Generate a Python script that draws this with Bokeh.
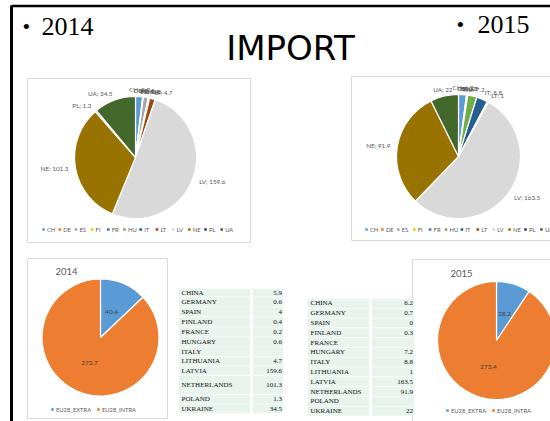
import math
from bokeh.plotting import figure
from bokeh.models import ColumnDataSource, Range1d
from bokeh.core.properties import value
from bokeh.embed import file_html
from bokeh.resources import INLINE

# ---------------- data ----------------
codes = ["CH", "DE", "ES", "FI", "FR", "HU", "IT", "LT", "LV", "NE", "PL", "UA"]
countries = ["CHINA", "GERMANY", "SPAIN", "FINLAND", "FRANCE", "HUNGARY", "ITALY",
             "LITHUANIA", "LATVIA", "NETHERLANDS", "POLAND", "UKRAINE"]
values_2014 = [5.9, 0.6, 4, 0.4, 0.2, 0.6, None, 4.7, 159.6, 101.3, 1.3, 34.5]
values_2015 = [6.2, 0.7, 0, 0.3, None, 7.2, 8.8, 1, 163.5, 91.9, None, 22]
eu_labels = ["EU28_EXTRA", "EU28_INTRA"]
eu_2014 = [40.4, 272.7]
eu_2015 = [28.2, 273.4]
years = ["2014", "2015"]
title = "IMPORT"

country_colors = ["#5B9BD5", "#ED7D31", "#A5A5A5", "#FFC000", "#4472C4", "#70AD47",
                  "#255E91", "#9E480E", "#D9D9D9", "#997300", "#264478", "#43682B"]
eu_colors = ["#5B9BD5", "#ED7D31"]

LABEL_GRAY = "#595959"
FONT = "Lato"

# ---------------- figure (coordinates = reference pixels) ----------------
W, H = 550, 421
p = figure(width=W, height=H, x_range=Range1d(0, W), y_range=Range1d(-H, 0),
           x_axis_type=None, y_axis_type=None, toolbar_location=None,
           output_backend="svg", min_border=0)
p.outline_line_color = None
p.grid.visible = False
p.background_fill_color = "white"


def Y(y):
    return -y


def fmt(v):
    return f"{v:g}"


def box(left, top, right, bottom, color="#D9D9D9"):
    p.quad(left=[left], right=[right], top=[Y(top)], bottom=[Y(bottom)],
           fill_color=None, line_color=color, line_width=1)


def text(xs, ys, texts, size, font=FONT, color=LABEL_GRAY, align="left",
         baseline="middle", style="normal"):
    src = ColumnDataSource(dict(x=xs, y=[Y(v) for v in ys], t=texts,
                                a=align if isinstance(align, list) else [align] * len(xs)))
    p.text(x="x", y="y", text="t", source=src, text_align="a",
           text_baseline=baseline, text_font=value(font),
           text_font_size=value(size), text_color=color, text_font_style=style)


def pie(cx, cy, r, vals, cols, names=None, label_r=None, inside=False):
    total = sum(v for v in vals if v)
    cum = 0.0
    xs, ys, rs, ss, es, cs = [], [], [], [], [], []
    lx, ly, lt, la = [], [], [], []
    for i, v in enumerate(vals):
        vv = v or 0
        t0 = cum / total * 2 * math.pi
        t1 = (cum + vv) / total * 2 * math.pi
        cum += vv
        if vv > 0:
            xs.append(cx); ys.append(Y(cy)); rs.append(r)
            ss.append(math.pi / 2 - t1); es.append(math.pi / 2 - t0); cs.append(cols[i])
        if v is None:
            continue
        mid = (t0 + t1) / 2
        R = label_r
        lx.append(cx + R * math.sin(mid))
        ly.append(cy - R * math.cos(mid))
        if inside:
            lt.append(fmt(v)); la.append("center")
        else:
            lt.append(f"{names[i]}; {fmt(v)}")
            s = math.sin(mid)
            la.append("left" if s > 0.25 else ("right" if s < -0.25 else "center"))
    src = ColumnDataSource(dict(x=xs, y=ys, r=rs, s=ss, e=es, c=cs))
    p.wedge(x="x", y="y", radius="r", start_angle="s", end_angle="e",
            fill_color="c", line_color="white", line_width=1.2, source=src)
    if inside:
        text(lx, ly, lt, "6.5px", color="#404040", align=la)
    else:
        text(lx, ly, lt, "6.3px", color=LABEL_GRAY, align=la)


def legend(x0, y, step, names, cols, size="5.8px"):
    mx = [x0 + i * step for i in range(len(names))]
    p.rect(x=mx, y=[Y(y)] * len(names), width=2.6, height=2.6,
           fill_color=cols, line_color=None)
    text([m + 3.5 for m in mx], [y] * len(names), names, size, color=LABEL_GRAY)


def table(left, top, name_w, val_w, heights, names, vals, size="7px"):
    gap = 2
    tops, bots = [], []
    y = top
    for h in heights:
        tops.append(y); bots.append(y + h); y += h
    n = len(names)
    p.quad(left=[left] * n, right=[left + name_w] * n,
           top=[Y(t) for t in tops], bottom=[Y(b) for b in bots],
           fill_color="#E7F3EC", line_color="white", line_width=0.6)
    p.quad(left=[left + name_w + gap] * n, right=[left + name_w + gap + val_w] * n,
           top=[Y(t) for t in tops], bottom=[Y(b) for b in bots],
           fill_color="#E7F3EC", line_color="white", line_width=0.6)
    cy = [(t + b) / 2 for t, b in zip(tops, bots)]
    text([left + 3] * n, cy, names, size, font="Liberation Serif", color="#111111")
    vx, vy, vt = [], [], []
    for c, v in zip(cy, vals):
        if v is not None:
            vx.append(left + name_w + gap + val_w - 1.5); vy.append(c); vt.append(fmt(v))
    text(vx, vy, vt, size, font="Liberation Serif", color="#111111", align="right")


# ---------------- slide frame ----------------
p.line(x=[11, 11], y=[Y(5), Y(421)], line_color="black", line_width=3)
p.line(x=[11, 550], y=[Y(5.5), Y(5.5)], line_color="black", line_width=2.5)

# headings
text([290], [47], [title], "34px", font="DejaVu Sans", color="black", align="center")
text([22, 456], [26, 24], ["\u2022", "\u2022"], "22px", font="Liberation Serif", color="black")
text([41, 477], [26, 24], years, "26px", font="Liberation Serif", color="black")

# ---------------- top charts (by country) ----------------
box(27, 78, 250, 242)
pie(135, 157, 61, values_2014, country_colors, names=codes, label_r=68)
legend(43, 229, 16.2, codes, country_colors)

box(351, 76, 560, 240)
pie(458, 156, 62, values_2015, country_colors, names=codes, label_r=69)
legend(366, 229, 15.9, codes, country_colors)

# ---------------- bottom charts (EU28) ----------------
box(27, 258, 167, 418)
text([66], [271], [years[0]], "9.5px", color=LABEL_GRAY, align="center")
pie(100, 337, 58.5, eu_2014, eu_colors, label_r=28, inside=True)
legend(52, 409, 46, eu_labels, eu_colors)

box(412, 259, 560, 430)
text([461], [273], [years[1]], "9.5px", color=LABEL_GRAY, align="center")
pie(496, 340, 59, eu_2015, eu_colors, label_r=28, inside=True)
legend(447, 410, 46, eu_labels, eu_colors)

# ---------------- tables ----------------
table(178, 288, 72, 31, [8.5, 10, 10, 10, 10, 10, 9.5, 9.5, 9.5, 19, 9.5, 9.5],
      countries, values_2014)
table(307, 298, 62, 43, [9.8] * 12, countries, values_2015)

open("out.html", "w").write(file_html(p, INLINE))
